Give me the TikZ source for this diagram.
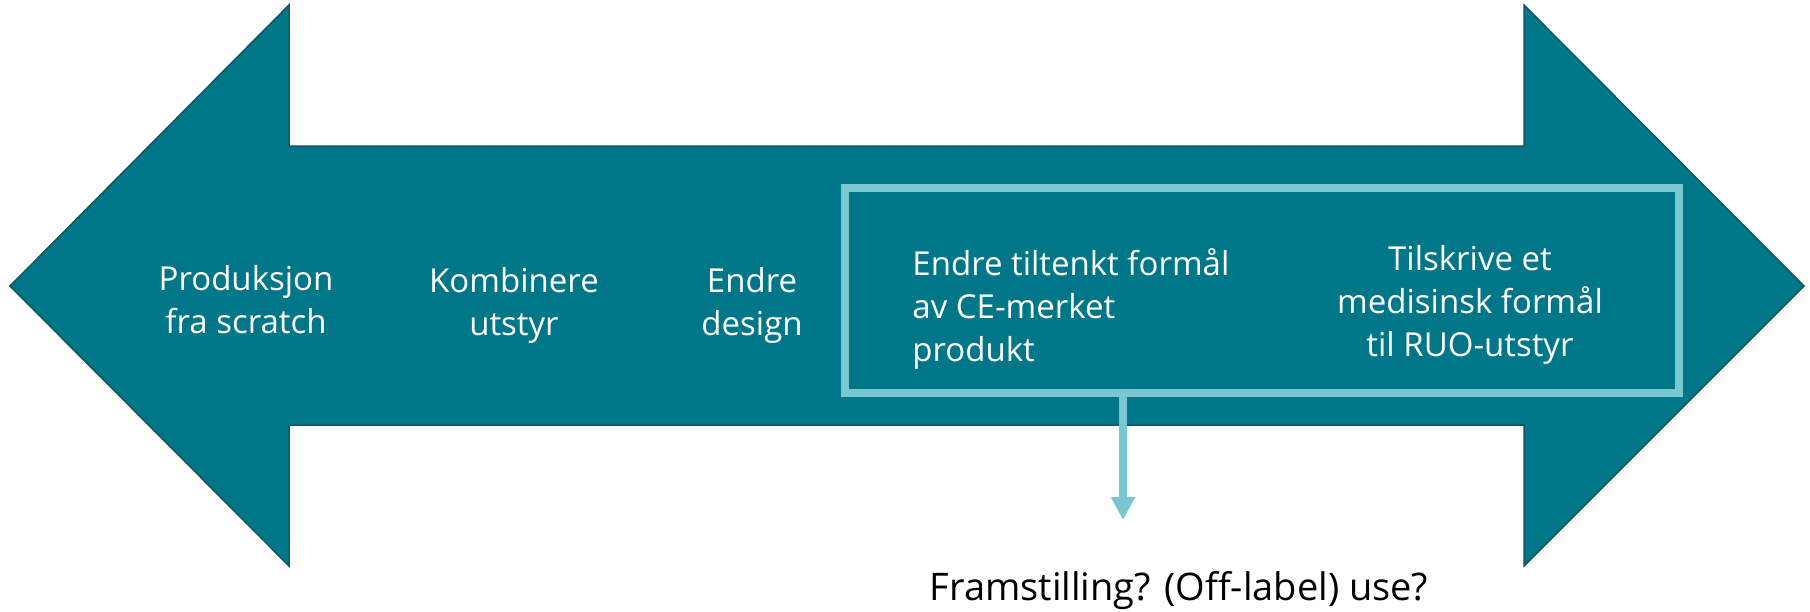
\documentclass[tikz,border=0pt]{standalone}
\usepackage{fontspec}
\setmainfont{Open Sans}
\usetikzlibrary{arrows.meta}
\definecolor{teal}{RGB}{0,119,137}
\definecolor{tealedge}{RGB}{16,86,98}
\definecolor{light}{RGB}{120,199,209}
\tikzset{
  lbl/.style={text=white, align=center, inner sep=0pt, anchor=base,
    font=\fontsize{16.5}{21.5}\selectfont},
  frame/.style={draw=light, line width=4pt, inner sep=0pt},
}
\begin{document}
\begin{tikzpicture}[x=0.5pt, y=-0.5pt]
\path[fill=white, use as bounding box] (0,0) rectangle (1810,611);
\draw[fill=teal, draw=tealedge, line width=0.75pt, line join=miter]
  (10,286) -- (289,5) -- (289,146) -- (1524,146) -- (1524,5) -- (1804,286)
  -- (1524,566) -- (1524,425) -- (289,425) -- (289,566) -- cycle;
\node[frame, minimum width=416.75pt, minimum height=102.5pt] (box) at (1261.75,290) {};
\node[lbl] (p1) at (246,333) {Produksjon\\fra scratch};
\node[lbl] (p2) at (514,335) {Kombinere\\utstyr};
\node[lbl] (p3) at (752,335) {Endre\\design};
\node[lbl, align=left, anchor=base west] (p4) at (912,361) {Endre tiltenkt formål\\av CE-merket\\produkt};
\node[lbl] (p5) at (1470,356) {Tilskrive et\\medisinsk formål\\til RUO-utstyr};
\node[inner sep=0pt, anchor=base, font=\fontsize{19}{23}\selectfont] (q) at (1179,600) {Framstilling? (Off-label) use?};
\coordinate (tip) at (1123,520);
\draw[draw=light, line width=3.75pt, -{Triangle[width=11.5pt,length=11.5pt]}] (box.south -| tip) -- (tip);
\end{tikzpicture}
\end{document}
